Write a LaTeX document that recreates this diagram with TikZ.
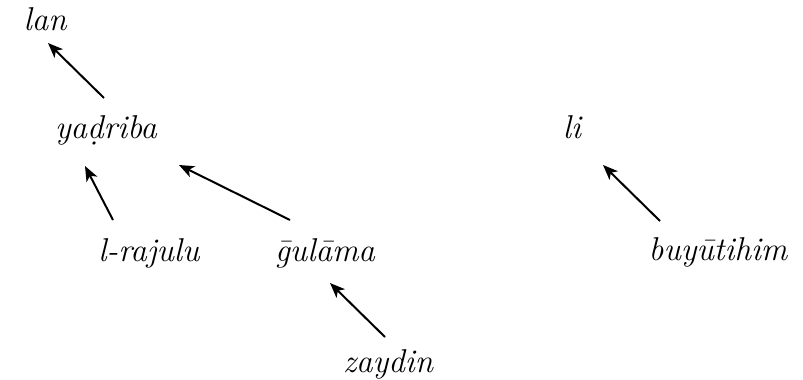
\documentclass[tikz,border=0pt]{standalone}
\usetikzlibrary{arrows.meta}
\begin{document}
\begin{tikzpicture}[x=1pt,y=-1pt,
  word/.style={font=\fontsize{33}{40}\selectfont\itshape, anchor=base, inner sep=0pt},
  dep/.style={-{Stealth[length=15pt,width=12pt,inset=4pt]}, line width=2pt}]
\useasboundingbox (0,0) rectangle (803,380);
% words
\node[word] (lan)  at (45,30)   {lan};
\node[word] (yad)  at (106,138) {ya\d{d}riba};
\node[word] (raj)  at (149,261) {l-rajulu};
\node[word] (gul)  at (325,261) {\={g}ul\={a}ma};
\node[word] (zay)  at (388,372) {zaydin};
\node[word] (li)   at (572,138) {li};
\node[word] (buy)  at (718,260) {buy\={u}tihim};
% arrow end points
\coordinate (a1t) at (104,98);  \coordinate (a1h) at (48,43);
\coordinate (a2t) at (113,220); \coordinate (a2h) at (85,166);
\coordinate (a3t) at (290,220); \coordinate (a3h) at (179,165);
\coordinate (a4t) at (385,337); \coordinate (a4h) at (330,283);
\coordinate (a5t) at (660,221); \coordinate (a5h) at (603,165);
% dependency arrows
\draw[dep] (a1t) -- (a1h);
\draw[dep] (a2t) -- (a2h);
\draw[dep] (a3t) -- (a3h);
\draw[dep] (a4t) -- (a4h);
\draw[dep] (a5t) -- (a5h);
\end{tikzpicture}
\end{document}
